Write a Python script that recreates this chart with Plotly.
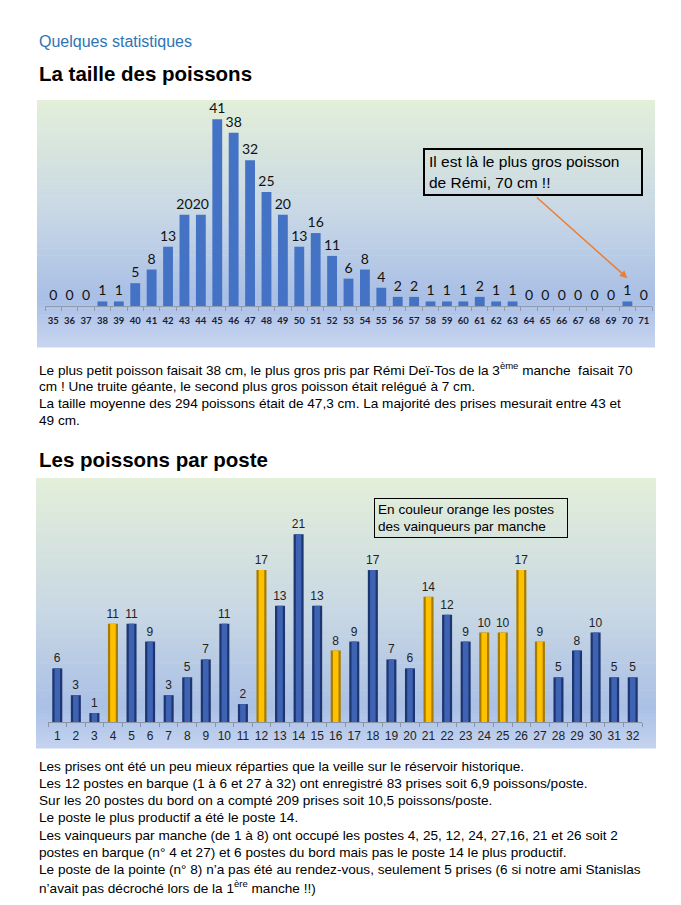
import plotly.graph_objects as go

# ---------------- data ----------------
taille_cm = list(range(35, 72))
taille_counts = [0, 0, 0, 1, 1, 5, 8, 13, 20, 20, 41, 38, 32, 25, 20, 13, 16, 11, 6, 8,
                 4, 2, 2, 1, 1, 1, 2, 1, 1, 0, 0, 0, 0, 0, 0, 1, 0]
postes = list(range(1, 33))
poste_counts = [6, 3, 1, 11, 11, 9, 3, 5, 7, 11, 2, 17, 13, 21, 13, 8, 9, 17, 7, 6,
                14, 12, 9, 10, 10, 17, 9, 5, 8, 10, 5, 5]
postes_vainqueurs = [4, 25, 12, 24, 27, 16, 21, 26]
plus_gros_poisson = 70

W, H = 681, 905
def px(x): return x / W
def py(y): return 1 - y / H

FONT = "Liberation Sans, Arial, sans-serif"
LBL = "Lato, Open Sans, sans-serif"

fig = go.Figure()

# ---- chart 1 ----
fig.add_trace(go.Bar(
    x=[str(c) for c in taille_cm], y=taille_counts, xaxis="x", yaxis="y",
    marker=dict(color="#4472c4", line=dict(width=0)), width=0.6,
    text=[str(v) for v in taille_counts], textposition="outside", constraintext="none",
    textfont=dict(family=LBL, size=14, color="#111111"), cliponaxis=False,
    hoverinfo="skip", showlegend=False))

# ---- chart 2 (cylinder look: dark outer + lighter inner) ----
outer_cols = ["#a67c00" if p in postes_vainqueurs else "#1d3570" for p in postes]
inner_cols = ["#ffc000" if p in postes_vainqueurs else "#3e63b2" for p in postes]
fig.add_trace(go.Bar(
    x=[str(p) for p in postes], y=poste_counts, xaxis="x2", yaxis="y2",
    marker=dict(color=outer_cols, line=dict(width=0)), width=0.54,
    text=[str(v) for v in poste_counts], textposition="outside", constraintext="none",
    textfont=dict(family=FONT, size=12, color="#222222"), cliponaxis=False,
    hoverinfo="skip", showlegend=False))
fig.add_trace(go.Bar(
    x=[str(p) for p in postes], y=poste_counts, xaxis="x2", yaxis="y2",
    marker=dict(color=inner_cols, line=dict(width=0)), width=0.3,
    hoverinfo="skip", showlegend=False))

# ---- gradient panels ----
def lerp(a, b, t): return tuple(int(round(a[i] + (b[i] - a[i]) * t)) for i in range(3))
def grad_color(stops, f):
    for (f0, c0), (f1, c1) in zip(stops, stops[1:]):
        if f0 <= f <= f1:
            return "rgb(%d,%d,%d)" % lerp(c0, c1, (f - f0) / (f1 - f0))
    return "rgb(%d,%d,%d)" % stops[-1][1]

shapes = []
def panel(x0, x1, y0, y1, stops, n=70):
    h = (y1 - y0) / n
    for i in range(n):
        ya = y0 + i * h
        shapes.append(dict(type="rect", xref="paper", yref="paper", layer="below",
                           x0=px(x0), x1=px(x1), y0=py(ya), y1=py(ya + h + 0.6),
                           fillcolor=grad_color(stops, (i + 0.5) / n), line=dict(width=0)))

stops1 = [(0, (227, 239, 217)), (0.5, (197, 213, 230)), (0.8, (168, 190, 229)), (1.0, (199, 213, 240))]
stops2 = [(0, (227, 239, 217)), (0.5, (200, 215, 228)), (0.85, (170, 192, 229)), (1.0, (196, 211, 240))]
panel(37, 655, 100, 347, stops1)
panel(36, 656, 478, 748, stops2)

annotations = []
def txt(x, y, s, size=13.6, color="#000000", bold=False):
    if bold:
        s = "<b>" + s + "</b>"
    annotations.append(dict(xref="paper", yref="paper", x=px(x), y=py(y), text=s,
                            xanchor="left", yanchor="middle", showarrow=False,
                            font=dict(family=FONT, size=size, color=color)))

txt(37, 41, "Quelques statistiques", size=16, color="#2e74b5")
txt(37, 74, "La taille des poissons", size=20.5, bold=True)
txt(37, 459, "Les poissons par poste", size=20.5, bold=True)

para1 = ["Le plus petit poisson faisait 38 cm, le plus gros pris par Rémi Deï-Tos de la 3<sup>ème</sup> manche  faisait 70",
         "cm ! Une truite géante, le second plus gros poisson était relégué à 7 cm.",
         "La taille moyenne des 294 poissons était de 47,3 cm. La majorité des prises mesurait entre 43 et",
         "49 cm."]
for i, s in enumerate(para1):
    txt(37, 369 + i * 17.2, s)

para2 = ["Les prises ont été un peu mieux réparties que la veille sur le réservoir historique.",
         "Les 12 postes en barque (1 à 6 et 27 à 32) ont enregistré 83 prises soit 6,9 poissons/poste.",
         "Sur les 20 postes du bord on a compté 209 prises soit 10,5 poissons/poste.",
         "Le poste le plus productif a été le poste 14.",
         "Les vainqueurs par manche (de 1 à 8) ont occupé les postes 4, 25, 12, 24, 27,16, 21 et 26 soit 2",
         "postes en barque (n° 4 et 27) et 6 postes du bord mais pas le poste 14 le plus productif.",
         "Le poste de la pointe (n° 8) n’a pas été au rendez-vous, seulement 5 prises (6 si notre ami Stanislas",
         "n’avait pas décroché lors de la 1<sup>ère</sup> manche !!)"]
for i, s in enumerate(para2):
    txt(37, 766 + i * 17.3, s)

# callout chart 1 (category axis -> use the category index)
annotations.append(dict(xref="x", yref="y", x=taille_cm.index(plus_gros_poisson), y=6.1,
                        ax=-92, ay=-82, text="",
                        showarrow=True, arrowhead=2, arrowsize=1, arrowwidth=1.5,
                        arrowcolor="#ed7d31"))
annotations.append(dict(xref="paper", yref="paper", x=px(533), y=py(172),
                        text="Il est là le plus gros poisson<br>de Rémi, 70 cm !!",
                        align="left", xanchor="center", yanchor="middle", showarrow=False,
                        width=208, height=36, borderpad=4, bordercolor="#000000", borderwidth=2,
                        font=dict(family=FONT, size=15.5, color="#000000")))
# legend box chart 2
annotations.append(dict(xref="paper", yref="paper", x=px(471), y=py(518),
                        text="En couleur orange les postes<br>des vainqueurs par manche",
                        align="left", xanchor="center", yanchor="middle", showarrow=False,
                        width=186, height=32, borderpad=3, bordercolor="#000000", borderwidth=1,
                        font=dict(family=FONT, size=13.6, color="#000000")))

fig.update_layout(
    width=W, height=H, margin=dict(l=0, r=0, t=0, b=0),
    paper_bgcolor="white", plot_bgcolor="rgba(0,0,0,0)",
    barmode="overlay", shapes=shapes, annotations=annotations,
    xaxis=dict(domain=[px(45), px(652)], anchor="y", type="category",
               tickmode="linear", dtick=1,
               showgrid=False, showline=True, linecolor="#8f9bb0", linewidth=1,
               ticks="outside", tickson="boundaries", ticklen=4, tickcolor="#8f9bb0",
               ticklabelstandoff=6,
               tickfont=dict(family=LBL, size=9.5, color="#1a2030", weight="bold"), tickangle=0),
    yaxis=dict(domain=[py(306), py(100)], anchor="x", range=[0, 45.2],
               visible=False, showgrid=False),
    xaxis2=dict(domain=[px(48), px(642)], anchor="y2", type="category",
                tickmode="linear", dtick=1,
                showgrid=False, showline=True, linecolor="#8a94a8", linewidth=1,
                ticks="outside", tickson="boundaries", ticklen=4, tickcolor="#8a94a8",
                ticklabelstandoff=3,
                tickfont=dict(family=FONT, size=12, color="#222222"), tickangle=0),
    yaxis2=dict(domain=[py(722), py(478)], anchor="x2", range=[0, 27.3],
                visible=False, showgrid=False),
)

fig.write_html("out.html", config={"displayModeBar": False},
               post_script="document.body.style.margin='0';document.body.style.padding='0';")
